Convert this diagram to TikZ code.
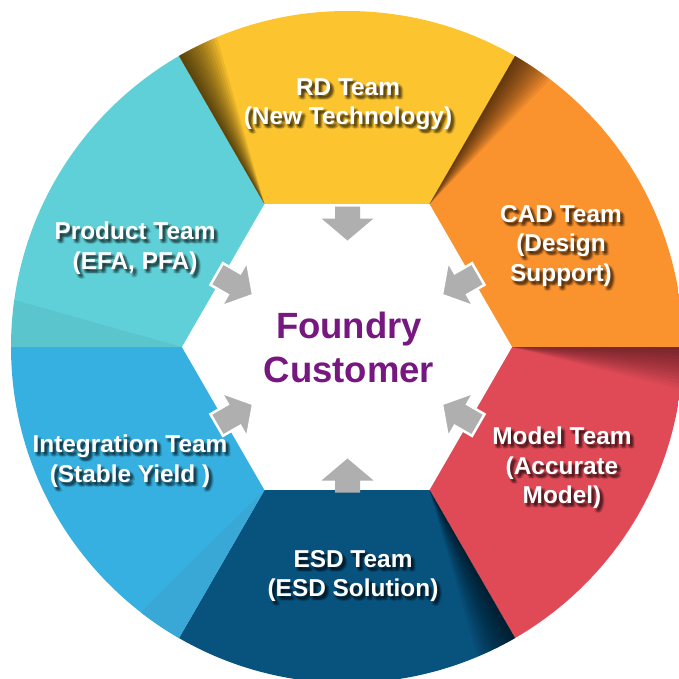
\documentclass[tikz,border=0pt]{standalone}
\usepackage{fontspec}
\setmainfont{Liberation Sans}
\usetikzlibrary{calc}
\definecolor{cyel}{RGB}{252,196,46}
\definecolor{cora}{RGB}{250,146,46}
\definecolor{cred}{RGB}{224,74,87}
\definecolor{cdblue}{RGB}{8,82,126}
\definecolor{clblue}{RGB}{53,176,224}
\definecolor{ccyan}{RGB}{95,208,216}
\definecolor{csliver}{RGB}{58,168,214}
\definecolor{cpurple}{RGB}{118,24,128}
\definecolor{carrow}{RGB}{175,175,175}
\tikzset{
  teamlabel/.style={font=\bfseries\fontsize{24.4}{29.5}\selectfont, text=white, align=center, inner sep=0pt},
  shadowlabel/.style={teamlabel, text=black, text opacity=0.11},
  centerlabel/.style={font=\bfseries\fontsize{36.5}{44}\selectfont, text=cpurple, align=center, inner sep=0pt},
  arrowfill/.style={fill=carrow},
  sidearrow/.style={fill=carrow, draw=white, line width=2.5pt, line join=miter},
}
\newcommand\teamnode[3]{%
  \foreach \dx/\dy in {1/2,3/2,2/3,2/4,4/4,3/5,1/4,4/2,5/4,3/3}{%
    \node[shadowlabel] at ([shift={(\dx,\dy)}]#2) {#3};}
  \node[teamlabel] (#1) at (#2) {#3};}
\begin{document}
\begin{tikzpicture}[x=1pt,y=-1pt]
\useasboundingbox (0,0) rectangle (679,678);
\clip (0,0) rectangle (679,678);
\coordinate (C) at (347,347);
\coordinate (A) at (347.5,349.5);
\begin{scope}
  \clip (C) circle[radius=336];
  % sectors (screen angles, clockwise from right)
  \fill[cred]   (C) -- ($(C)+(0:800)$)   -- ($(C)+(60:800)$)  -- cycle;
  \fill[cdblue] (C) -- ($(C)+(60:800)$)  -- ($(C)+(120:800)$) -- cycle;
  \fill[clblue] (C) -- ($(C)+(120:800)$) -- ($(C)+(180:800)$) -- cycle;
  \fill[ccyan]  (C) -- ($(C)+(180:800)$) -- ($(C)+(240:800)$) -- cycle;
  \fill[cyel]   (C) -- ($(C)+(240:800)$) -- ($(C)+(300:800)$) -- cycle;
  \fill[cora]   (C) -- ($(C)+(300:800)$) -- ($(C)+(360:800)$) -- cycle;
  % subtle slivers
  \coordinate (VL) at ($(C)+(180:165)$);
  \coordinate (VBL) at ($(C)+(120:165)$);
  \fill[black, opacity=0.05] (VL) -- ($(VL)!2!(11,299)$) -- ($(C)+(180:800)$) -- cycle;
  \fill[csliver] (VBL) -- ($(VBL)!3!(140,613)$) -- ($(C)+(120:800)$) -- cycle;
  % cast shadows
  \foreach \p/\op in {240/0.065, 300/0.06, 360/0.04, 60/0.06}{
    \foreach \k in {1,...,14}{
      \fill[black, opacity=\op] ($(C)+(\p:165)$) -- ($(C)+(\p:800)$) -- ($(C)+(\p+\k*0.8:800)$) -- cycle;
    }
  }
\end{scope}
% central hexagon
\fill[white] ($(C)+(0:165)$) -- ($(C)+(60:165)$) -- ($(C)+(120:165)$) -- ($(C)+(180:165)$) -- ($(C)+(240:165)$) -- ($(C)+(300:165)$) -- cycle;
% block arrows
\foreach \t/\d/\sty in {270/143/arrowfill, 90/143/arrowfill, 330/151/sidearrow, 30/151/sidearrow, 150/151/sidearrow, 210/151/sidearrow}{
  \path[\sty] ($(A)+(\t:\d)+(\t+90:12.5)$) -- ($(A)+(\t:131)+(\t+90:12.5)$) -- ($(A)+(\t:131)+(\t+90:26)$) -- ($(A)+(\t:109)$) -- ($(A)+(\t:131)+(\t-90:26)$) -- ($(A)+(\t:131)+(\t-90:12.5)$) -- ($(A)+(\t:\d)+(\t-90:12.5)$) -- cycle;
}
% labels
\teamnode{rd}{348,104}{RD Team\\(New Technology)}
\teamnode{cad}{561,246}{CAD Team\\(Design\\Support)}
\teamnode{model}{562,468}{Model Team\\(Accurate\\Model)}
\teamnode{esd}{353,576}{ESD Team\\(ESD Solution)}
\teamnode{integ}{130,461}{Integration Team\\(Stable Yield )}
\teamnode{prod}{135,248}{Product Team\\(EFA, PFA)}
\node[centerlabel] (cust) at (349,347) {Foundry\\Customer};
\end{tikzpicture}
\end{document}
